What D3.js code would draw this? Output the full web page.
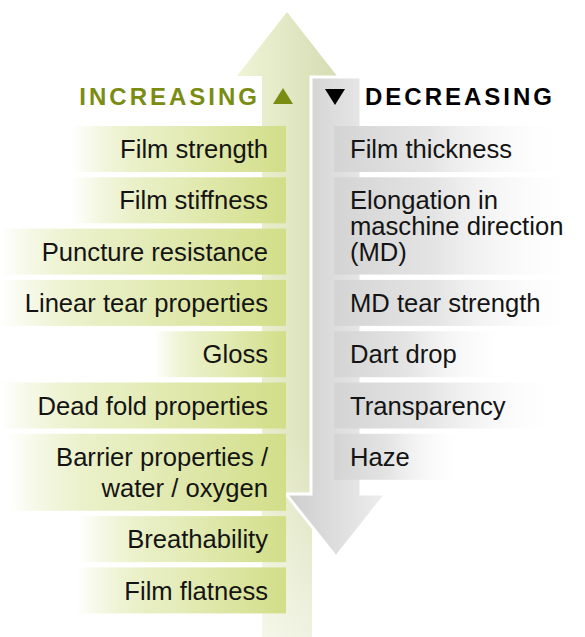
<!DOCTYPE html>
<html>
<head>
<meta charset="utf-8">
<script src="https://cdn.jsdelivr.net/npm/d3@7"></script>
<style>
  html, body { margin: 0; padding: 0; background: #fff; }
  svg { display: block; font-family: "Liberation Sans", Arial, Helvetica, sans-serif; }
</style>
</head>
<body>
<svg id="chart"></svg>
<script>
'use strict';

// properties that go up / down
const increasingTitle = 'INCREASING';
const decreasingTitle = 'DECREASING';

const increasing = [
  ['Film strength'],
  ['Film stiffness'],
  ['Puncture resistance'],
  ['Linear tear properties'],
  ['Gloss'],
  ['Dead fold properties'],
  ['Barrier properties /', 'water / oxygen'],
  ['Breathability'],
  ['Film flatness']
];

const decreasing = [
  ['Film thickness'],
  ['Elongation in', 'maschine direction', '(MD)'],
  ['MD tear strength'],
  ['Dart drop'],
  ['Transparency'],
  ['Haze']
];

const width = 585, height = 637;
const olive = '#7a8d12';

const svg = d3.select('#chart')
  .attr('width', width)
  .attr('height', height)
  .attr('viewBox', [0, 0, width, height]);

const defs = svg.append('defs');

function gradient(id, stops, vertical = false) {
  const g = defs.append('linearGradient').attr('id', id)
    .attr('x1', '0%').attr('x2', vertical ? '0%' : '100%')
    .attr('y1', '0%').attr('y2', vertical ? '100%' : '0%');
  stops.forEach(s => g.append('stop').attr('offset', s[0]).attr('stop-color', s[1]).attr('stop-opacity', s[2] ?? 1));
}

gradient('upArrow', [['0%', '#eff4d6'], ['100%', '#d6dcb3']]);
gradient('upShaftFadeV', [['0%', '#fff', 0], ['100%', '#fff', 0.55]], true);
gradient('downArrow', [['0%', '#cdcdcd'], ['100%', '#eeeeee']]);
gradient('greenBox', [['0%', '#d3df8b', 0], ['45%', '#e6edbd'], ['100%', '#d2de88']]);
gradient('grayBox', [['0%', '#d4d4d4'], ['40%', '#e4e4e4'], ['100%', '#ffffff', 0]]);

// vertical layout of the rows
const top0 = 126, rowH = 46, rowGap = 5.3, leftStep = 31, rightStep = 26;
const leftRows = [];
let yy = top0;
increasing.forEach(lines => {
  const h = rowH + leftStep * (lines.length - 1);
  leftRows.push({ lines, y0: yy, y1: yy + h });
  yy += h + rowGap;
});

let slot = 0;
const rightRows = decreasing.map(lines => {
  const span = Math.ceil(lines.length / 2);
  const r = { lines, y0: leftRows[slot].y0, y1: leftRows[slot + span - 1].y0 + rowH };
  slot += span;
  return r;
});

// arrows
const up = { cx: 287, half: 25, headHalf: 50, tip: 12, base: 76, end: height };
const down = { cx: 336, half: 25, headHalf: 50, top: 77, base: 494, tip: 557 };
const line = d3.line();

const upPts = [
  [up.cx, up.tip], [up.cx + up.headHalf, up.base], [up.cx + up.half, up.base],
  [up.cx + up.half, up.end], [up.cx - up.half, up.end], [up.cx - up.half, up.base],
  [up.cx - up.headHalf, up.base]
];
svg.append('path').attr('d', line(upPts) + 'Z').attr('fill', 'url(#upArrow)');

// fade the lower part of the green shaft
svg.append('rect')
  .attr('x', up.cx - up.half).attr('y', 440)
  .attr('width', up.half * 2).attr('height', up.end - 440)
  .attr('fill', 'url(#upShaftFadeV)');

const downPts = [
  [down.cx - down.half, down.top], [down.cx + down.half, down.top], [down.cx + down.half, down.base],
  [down.cx + down.headHalf, down.base], [down.cx, down.tip], [down.cx - down.headHalf, down.base],
  [down.cx - down.half, down.base]
];
svg.append('path').attr('d', line(downPts) + 'Z')
  .attr('fill', 'url(#downArrow)')
  .attr('stroke', '#fff').attr('stroke-width', 3).attr('stroke-linejoin', 'miter');

// titles
const titleY = 105;
svg.append('text')
  .attr('x', 260).attr('y', titleY)
  .attr('text-anchor', 'end')
  .attr('font-size', 24).attr('font-weight', 'bold')
  .attr('letter-spacing', 3)
  .attr('fill', olive)
  .text(increasingTitle);
svg.append('text')
  .attr('x', 365).attr('y', titleY)
  .attr('font-size', 24).attr('font-weight', 'bold')
  .attr('letter-spacing', 3)
  .attr('fill', '#000')
  .text(decreasingTitle);

// small direction triangles next to the titles
const tri = [
  { cx: 283, y0: 88, y1: 104, fill: olive, upward: true },
  { cx: 335, y0: 89, y1: 105, fill: '#000', upward: false }
];
svg.selectAll('path.tri')
  .data(tri)
  .join('path')
  .attr('class', 'tri')
  .attr('fill', d => d.fill)
  .attr('d', d => d.upward
    ? line([[d.cx, d.y0], [d.cx + 10, d.y1], [d.cx - 10, d.y1]]) + 'Z'
    : line([[d.cx - 10, d.y0], [d.cx + 10, d.y0], [d.cx, d.y1]]) + 'Z');

const fontSize = 25.6, capHalf = 9.1;
const leftTextX = 268, leftBoxRight = 286;
const rightBoxLeft = 334, rightTextX = 350;
const textColor = '#141414';

// left (green) rows
leftRows.forEach(r => {
  const g = svg.append('g');
  const rect = g.append('rect');
  const t = g.append('text')
    .attr('text-anchor', 'end')
    .attr('font-size', fontSize)
    .attr('fill', textColor);
  const mid = (r.y0 + r.y1) / 2;
  const firstBase = mid - leftStep * (r.lines.length - 1) / 2 + capHalf;
  r.lines.forEach((s, i) => t.append('tspan').attr('x', leftTextX).attr('y', firstBase + i * leftStep).text(s));
  const w = d3.max(t.selectAll('tspan').nodes(), n => n.getComputedTextLength());
  const x0 = Math.max(0, leftTextX - w - 48);
  rect.attr('x', x0).attr('y', r.y0).attr('width', leftBoxRight - x0).attr('height', r.y1 - r.y0)
    .attr('fill', 'url(#greenBox)');
});

// right (gray) rows
rightRows.forEach(r => {
  const g = svg.append('g');
  const rect = g.append('rect');
  const t = g.append('text')
    .attr('font-size', fontSize)
    .attr('fill', textColor);
  const mid = (r.y0 + r.y1) / 2;
  const firstBase = mid - rightStep * (r.lines.length - 1) / 2 + capHalf;
  r.lines.forEach((s, i) => t.append('tspan').attr('x', rightTextX).attr('y', firstBase + i * rightStep).text(s));
  const w = d3.max(t.selectAll('tspan').nodes(), n => n.getComputedTextLength());
  const x1 = Math.min(width, rightTextX + w + 60);
  rect.attr('x', rightBoxLeft).attr('y', r.y0).attr('width', x1 - rightBoxLeft).attr('height', r.y1 - r.y0)
    .attr('fill', 'url(#grayBox)');
});
</script>
</body>
</html>
